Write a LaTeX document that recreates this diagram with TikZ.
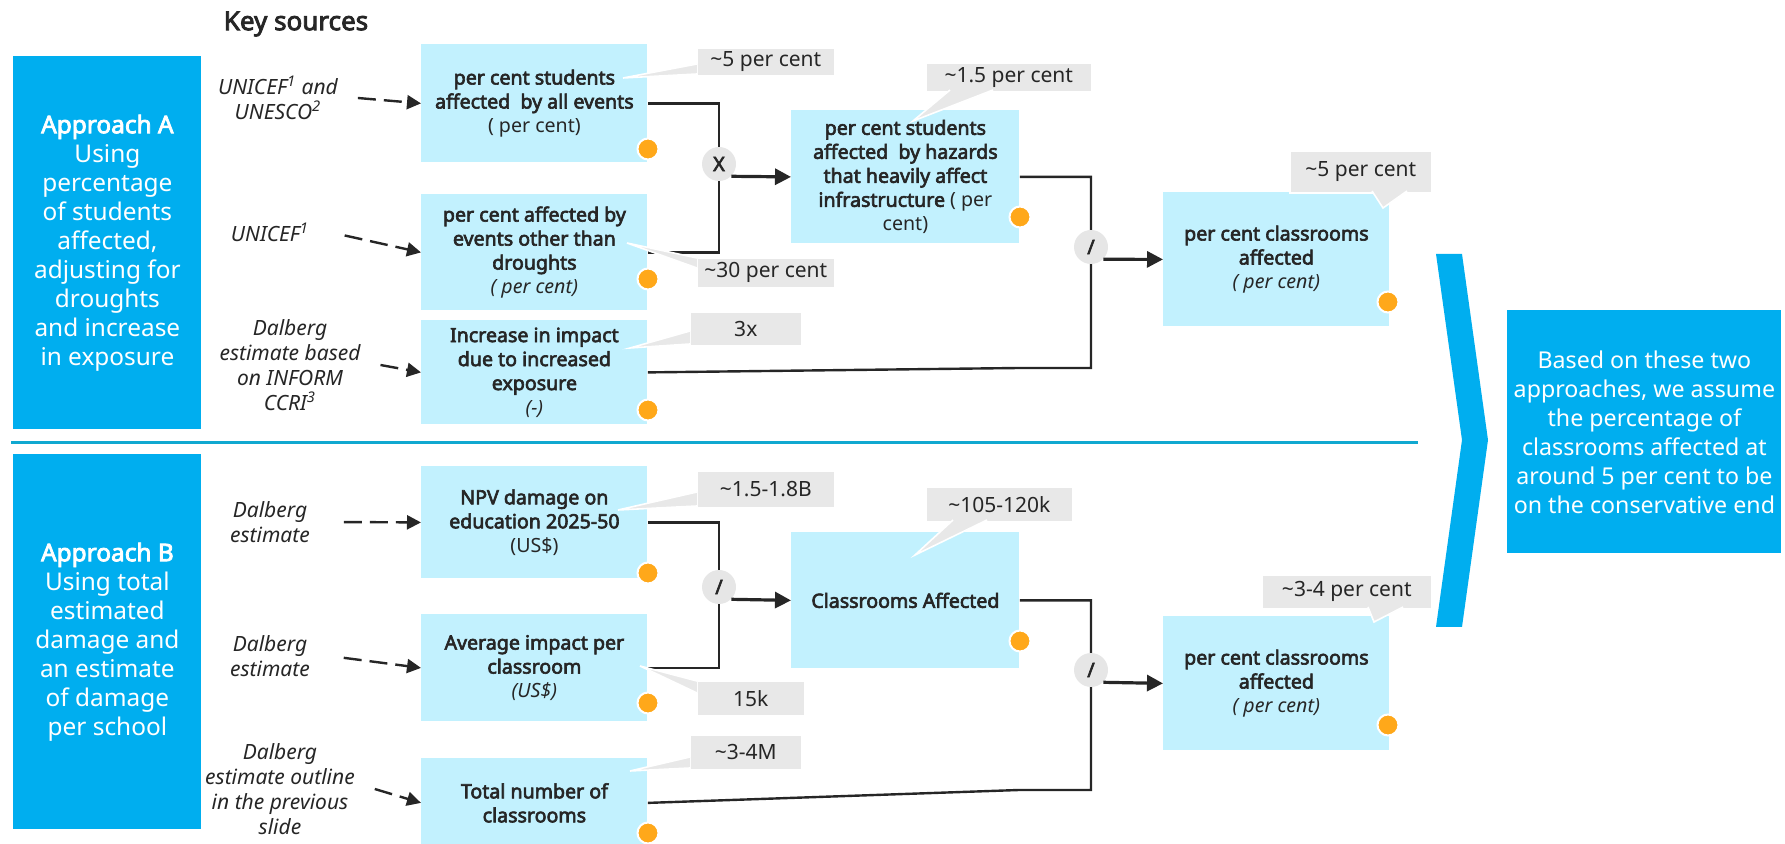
\documentclass[tikz,border=0pt]{standalone}
\usepackage{fontspec}
\setmainfont{Noto Sans}[AutoFakeBold = 3.2]
\usetikzlibrary{arrows.meta}
\usetikzlibrary{backgrounds}
\usetikzlibrary{shapes}

\definecolor{approachblue}{HTML}{00AEEF}
\definecolor{boxcyan}{HTML}{C2F1FE}
\definecolor{calloutgrey}{HTML}{E8E8E8}
\definecolor{opgrey}{HTML}{E6E6E6}
\definecolor{dotorange}{HTML}{FFA81A}
\definecolor{inkdark}{HTML}{262626}
\definecolor{ruleblue}{HTML}{10A8D0}

\begin{document}
\begin{tikzpicture}[x = 0.5pt, y = -0.5pt]
	\tikzstyle{approachStyle}=[fill = approachblue, text = white, align = center, inner sep = 0pt, anchor = north west, font = \fontsize{12.2}{14.5}\selectfont]
	\tikzstyle{metricStyle}=[fill = boxcyan, text = inkdark, align = center, inner sep = 2pt, anchor = north west, minimum width = 113pt, font = \fontsize{9.8}{12}\selectfont\bfseries]
	\tikzstyle{sourceStyle}=[text = inkdark, align = center, inner sep = 2pt, outer xsep = 8pt, font = \fontsize{10.5}{12.5}\selectfont\itshape]
	\tikzstyle{valueStyle}=[fill = calloutgrey, draw = white, line width = 0.8pt, text = inkdark, inner sep = 0pt, anchor = north west, font = \fontsize{10.5}{12}\selectfont]
	\tikzstyle{pointerStyle}=[fill = calloutgrey, draw = white, line width = 0.8pt]
	\tikzstyle{opStyle}=[shape = circle, fill = opgrey, minimum size = 17pt, inner sep = 0pt, text = inkdark, font = \fontsize{10}{12}\selectfont\bfseries]
	\tikzstyle{dotStyle}=[shape = circle, fill = dotorange, draw = white, line width = 1pt, minimum size = 10.5pt, inner sep = 0pt]
	\tikzstyle{linkStyle}=[draw = inkdark, line width = 1.2pt]
	\tikzstyle{flowStyle}=[draw = inkdark, line width = 1.6pt, -{Triangle[length = 8pt, width = 8pt]}]
	\tikzstyle{sourceArrowStyle}=[draw = inkdark, line width = 1.2pt, dash pattern = on 9pt off 4pt, -{Triangle[length = 7pt, width = 7pt]}]
	\useasboundingbox (0,0) rectangle (1785,844);

	% approach panels and the rule between them
	\node[approachStyle, minimum width = 94pt, minimum height = 186.5pt] (apprA) at (13,56) {\textbf{Approach A}\\Using\\percentage\\of students\\affected,\\adjusting for\\droughts\\and increase\\in exposure};
	\node[approachStyle, minimum width = 94pt, minimum height = 187.5pt] (apprB) at (13,454) {\textbf{Approach B}\\Using total\\estimated\\damage and\\an estimate\\of damage\\per school};
	\draw[ruleblue, line width = 1.5pt] (11,443) -- (1418,443);
	\node[text = inkdark, font = \fontsize{13}{15}\selectfont\bfseries] (keySources) at (296,24) {Key sources};

	% sources
	\node[sourceStyle] (srcA1) at (278,98) {UNICEF\textsuperscript{1} and\\UNESCO\textsuperscript{2}};
	\node[sourceStyle] (srcA2) at (270,232) {UNICEF\textsuperscript{1}};
	\node[sourceStyle] (srcA3) at (290,365) {Dalberg\\estimate based\\on INFORM\\CCRI\textsuperscript{3}};
	\node[sourceStyle] (srcB1) at (270,522) {Dalberg\\estimate};
	\node[sourceStyle] (srcB2) at (270,656) {Dalberg\\estimate};
	\node[sourceStyle] (srcB3) at (280,789) {Dalberg\\estimate outline\\in the previous\\slide};

	% metric boxes, approach A
	\node[metricStyle, minimum height = 59pt] (box1) at (421,44) {per cent students\\affected~ by all events\\{\mdseries ( per cent)}};
	\node[metricStyle, minimum height = 58pt] (box2) at (421,194) {per cent affected by\\events other than\\droughts\\{\mdseries\itshape ( per cent)}};
	\node[metricStyle, minimum height = 52pt] (box3) at (421,320) {Increase in impact\\due to increased\\exposure\\{\mdseries\itshape (-)}};
	\node[metricStyle, minimum width = 114pt, minimum height = 66.5pt] (box4) at (791,110) {per cent students\\affected~ by hazards\\that heavily affect\\infrastructure {\mdseries ( per}\\{\mdseries cent)}};
	\node[metricStyle, minimum height = 67pt] (box5) at (1163,192) {per cent classrooms\\affected\\{\mdseries\itshape ( per cent)}};

	% metric boxes, approach B
	\node[metricStyle, minimum height = 56pt] (box6) at (421,466) {NPV damage on\\education 2025-50\\{\mdseries (US\$)}};
	\node[metricStyle, minimum height = 53.5pt] (box7) at (421,614) {Average impact per\\classroom\\{\mdseries\itshape (US\$)}};
	\node[metricStyle, minimum width = 114pt, minimum height = 68pt] (box8) at (791,532) {Classrooms Affected};
	\node[metricStyle, minimum height = 44.5pt] (box9) at (421,758) {Total number of\\classrooms};
	\node[metricStyle, minimum height = 67pt] (box10) at (1163,616) {per cent classrooms\\affected\\{\mdseries\itshape ( per cent)}};

	% value callouts
	\node[valueStyle, minimum width = 69pt, minimum height = 14pt] (cA1) at (696,47) {\textasciitilde 5 per cent};
	\filldraw[pointerStyle] (697,64) -- (623,78) -- (697,74);
	\node[valueStyle, minimum width = 69pt, minimum height = 15pt] (cA2) at (696,257) {\textasciitilde 30 per cent};
	\filldraw[pointerStyle] (697,258) -- (627,243) -- (697,268);
	\node[valueStyle, minimum width = 56pt, minimum height = 17pt] (cA3) at (689,311) {3x};
	\filldraw[pointerStyle] (690,331) -- (630,348) -- (690,344);
	\node[valueStyle, minimum width = 83pt, minimum height = 14.5pt] (cA4) at (925,62) {\textasciitilde 1.5 per cent};
	\filldraw[pointerStyle] (950,90) -- (913,121) -- (993,90);
	\node[valueStyle, minimum width = 71pt, minimum height = 21pt] (cA5) at (1289,150) {\textasciitilde 5 per cent};
	\filldraw[pointerStyle] (1372,191) -- (1383,208) -- (1407,191);
	\node[valueStyle, minimum width = 69pt, minimum height = 18.5pt] (cB1) at (696,470) {\textasciitilde 1.5-1.8B};
	\filldraw[pointerStyle] (697,492) -- (618,510) -- (697,506);
	\node[valueStyle, minimum width = 54pt, minimum height = 17.5pt] (cB2) at (696,680) {15k};
	\filldraw[pointerStyle] (697,681) -- (640,666) -- (697,693);
	\node[valueStyle, minimum width = 56pt, minimum height = 17.5pt] (cB3) at (689,734) {\textasciitilde 3-4M};
	\filldraw[pointerStyle] (690,757) -- (630,771) -- (690,768);
	\node[valueStyle, minimum width = 73.5pt, minimum height = 17.5pt] (cB4) at (925,486) {\textasciitilde 105-120k};
	\filldraw[pointerStyle] (953,520) -- (915,555) -- (987,520);
	\node[valueStyle, minimum width = 85pt, minimum height = 17pt] (cB5) at (1261,574) {\textasciitilde 3-4 per cent};
	\filldraw[pointerStyle] (1368,607) -- (1374,622) -- (1403,607);

	% operators
	\node[opStyle] (opX) at (719,164) {X};
	\node[opStyle] (opDivA) at (1091,247) {/};
	\node[opStyle] (opDivB1) at (719,587) {/};
	\node[opStyle] (opDivB2) at (1091,670) {/};
	\coordinate (joinA) at (1019,368);
	\coordinate (joinB) at (1019,790);

	\begin{pgfonlayer}{background}
		\draw[linkStyle] (box1.east) -| (opX.center) |- (box2.east);
		\draw[linkStyle] (box4.east) -| (opDivA.center) |- (joinA) -- (box3.east);
		\draw[linkStyle] (box6.east) -| (opDivB1.center) |- (box7.east);
		\draw[linkStyle] (box8.east) -| (opDivB2.center) |- (joinB) -- (box9.east);
	\end{pgfonlayer}

	\draw[flowStyle] (opX.south east) -- (box4.west);
	\draw[flowStyle] (opDivA.south east) -- (box5.west);
	\draw[flowStyle] (opDivB1.south east) -- (box8.west);
	\draw[flowStyle] (opDivB2.south east) -- (box10.west);

	\draw[sourceArrowStyle] (srcA1.east) -- (box1.west);
	\draw[sourceArrowStyle, shorten <= 8pt] (srcA2.east) -- (box2.west);
	\draw[sourceArrowStyle] (srcA3.east) -- (box3.west);
	\draw[sourceArrowStyle, shorten <= 7pt] (srcB1.east) -- (box6.west);
	\draw[sourceArrowStyle, shorten <= 7pt] (srcB2.east) -- (box7.west);
	\draw[sourceArrowStyle] (srcB3.east) -- (box9.west);

	% source markers
	\node[dotStyle] (dA1) at (648,149) {};
	\node[dotStyle] (dA2) at (648,279) {};
	\node[dotStyle] (dA3) at (648,410) {};
	\node[dotStyle] (dA4) at (1020,217) {};
	\node[dotStyle] (dA5) at (1388,302) {};
	\node[dotStyle] (dB1) at (648,573) {};
	\node[dotStyle] (dB2) at (648,703) {};
	\node[dotStyle] (dB3) at (1020,641) {};
	\node[dotStyle] (dB4) at (648,833) {};
	\node[dotStyle] (dB5) at (1388,725) {};

	% conclusion
	\fill[approachblue] (1436,254) -- (1462,254) -- (1488,440) -- (1462,627) -- (1436,627) -- (1462,440) -- cycle;
	\node[approachStyle, minimum width = 137pt, minimum height = 121.5pt, font = \fontsize{11.6}{14.5}\selectfont] (summary) at (1507,310) {Based on these two\\approaches, we assume\\the percentage of\\classrooms affected at\\around 5 per cent to be\\on the conservative end};
\end{tikzpicture}
\end{document}
